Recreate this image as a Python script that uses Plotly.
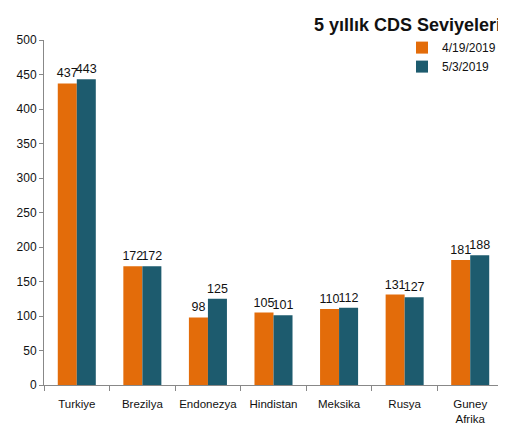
import plotly.graph_objects as go

categories = ["Turkiye", "Brezilya", "Endonezya", "Hindistan", "Meksika", "Rusya", "Guney<br>Afrika"]
series_names = ["4/19/2019", "5/3/2019"]
values_apr19 = [437, 172, 98, 105, 110, 131, 181]
values_may3 = [443, 172, 125, 101, 112, 127, 188]
y_ticks = [0, 50, 100, 150, 200, 250, 300, 350, 400, 450, 500]
title_text = "5 yıllık CDS Seviyeleri"

colors = ["#E36C0A", "#1D5B6E"]
font_family = "Liberation Sans, Arial, sans-serif"

fig = go.Figure()
for name, vals, col in zip(series_names, [values_apr19, values_may3], colors):
    fig.add_trace(go.Bar(
        x=categories, y=vals, name=name,
        marker=dict(color=col, line=dict(width=0)),
        text=[str(v) for v in vals], textposition="outside",
        textangle=0, constraintext="none",
        textfont=dict(size=12.5, color="#111", family=font_family),
        cliponaxis=False,
    ))

fig.add_annotation(text="<b>" + title_text + "</b>", xref="paper", yref="paper",
                   x=1.0, y=1.0, xanchor="right", yanchor="middle", yshift=15,
                   showarrow=False,
                   font=dict(size=18, family=font_family, color="#111"))

fig.update_layout(
    width=506, height=427,
    margin=dict(l=36, r=11, t=32, b=50, autoexpand=False),
    paper_bgcolor="white", plot_bgcolor="white",
    barmode="group", bargap=0.42, bargroupgap=0,
    font=dict(family=font_family, size=12, color="#111"),
    legend=dict(x=0.78, xanchor="left", y=1.02, yanchor="top",
                bgcolor="rgba(0,0,0,0)", font=dict(size=12, family=font_family),
                itemwidth=30, tracegroupgap=0),
    showlegend=True,
)
fig.update_xaxes(showline=True, linecolor="#888", linewidth=1, ticks="outside",
                 tickson="boundaries", ticklen=5, tickcolor="#888", tickangle=0,
                 ticklabelstandoff=8,
                 tickfont=dict(size=11.5), showgrid=False, automargin=False)
fig.update_yaxes(range=[0, 500], tickvals=y_ticks, showline=True, linecolor="#888",
                 linewidth=1, ticks="outside", ticklen=4, tickcolor="#888",
                 tickfont=dict(size=12), showgrid=False, zeroline=False, automargin=False)

fig.write_html("out.html")
